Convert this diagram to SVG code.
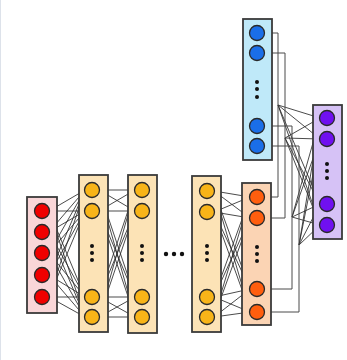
<svg xmlns="http://www.w3.org/2000/svg" width="347" height="360" viewBox="0 0 347 360">
<style>
.box{stroke:#3a3a3a;stroke-width:1.8}
.c{stroke:#2a2a2a;stroke-width:1.3}
.dot{fill:#111}
.ln{fill:none;stroke:#2a2a2a;stroke-width:0.85}
.ol{fill:none;stroke:#4a4a4a;stroke-width:1}
</style>
<defs>
<marker id="a" viewBox="0 0 6 6" refX="6" refY="3" markerWidth="5" markerHeight="5" markerUnits="userSpaceOnUse" orient="auto">
<path d="M0,0 L6,3 L0,6 z" fill="#222"/>
</marker>
</defs>
<rect width="347" height="360" fill="#fff"/>
<line x1="0.5" y1="0" x2="0.5" y2="360" stroke="#dde2ea" stroke-width="1"/>
<g id="connectors">
<g class="ln" marker-end="url(#a)">
<path d="M49 211L85 190"/><path d="M49 211L85 211"/><path d="M49 211L85 297"/><path d="M49 211L85 317"/>
<path d="M49 232L85 190"/><path d="M49 232L85 211"/><path d="M49 232L85 297"/><path d="M49 232L85 317"/>
<path d="M49 253L85 190"/><path d="M49 253L85 211"/><path d="M49 253L85 297"/><path d="M49 253L85 317"/>
<path d="M49 275L85 190"/><path d="M49 275L85 211"/><path d="M49 275L85 297"/><path d="M49 275L85 317"/>
<path d="M49 297L85 190"/><path d="M49 297L85 211"/><path d="M49 297L85 297"/><path d="M49 297L85 317"/>
<path d="M99 190L135 190"/><path d="M99 190L135 211"/><path d="M99 190L135 297"/><path d="M99 190L135 317"/>
<path d="M99 211L135 190"/><path d="M99 211L135 211"/><path d="M99 211L135 297"/><path d="M99 211L135 317"/>
<path d="M99 297L135 190"/><path d="M99 297L135 211"/><path d="M99 297L135 297"/><path d="M99 297L135 317"/>
<path d="M99 317L135 190"/><path d="M99 317L135 211"/><path d="M99 317L135 297"/><path d="M99 317L135 317"/>
<path d="M214 191L250 197"/><path d="M214 191L250 218"/><path d="M214 191L250 289"/><path d="M214 191L250 312"/>
<path d="M214 212L250 197"/><path d="M214 212L250 218"/><path d="M214 212L250 289"/><path d="M214 212L250 312"/>
<path d="M214 297L250 197"/><path d="M214 297L250 218"/><path d="M214 297L250 289"/><path d="M214 297L250 312"/>
<path d="M214 317L250 197"/><path d="M214 317L250 218"/><path d="M214 317L250 289"/><path d="M214 317L250 312"/>
<path d="M278 105L320 118"/><path d="M278 105L320 139"/><path d="M278 105L320 204"/><path d="M278 105L320 225"/>
<path d="M285 138L320 118"/><path d="M285 138L320 139"/><path d="M285 138L320 204"/><path d="M285 138L320 225"/>
<path d="M292 217L320 118"/><path d="M292 217L320 139"/><path d="M292 217L320 204"/><path d="M292 217L320 225"/>
<path d="M299 245L320 118"/><path d="M299 245L320 139"/><path d="M299 245L320 204"/><path d="M299 245L320 225"/>
</g>
<path class="ol" d="M264 33H278V197H264"/>
<path class="ol" d="M264 53H285V218H264"/>
<path class="ol" d="M264 126H292V289H264"/>
<path class="ol" d="M264 146H299V312H264"/>
</g>
<g id="input">
<rect class="box" x="27" y="197" width="30" height="116" fill="#f9d6d8"/>
<g fill="#f00000" class="c"><circle cx="42" cy="211" r="7.5"/><circle cx="42" cy="232" r="7.5"/><circle cx="42" cy="253" r="7.5"/><circle cx="42" cy="275" r="7.5"/><circle cx="42" cy="297" r="7.5"/></g>
</g>
<g id="hidden1">
<rect class="box" x="79" y="175" width="29" height="157" fill="#fce3b6"/>
<g fill="#f8b418" class="c"><circle cx="92" cy="190" r="7.5"/><circle cx="92" cy="211" r="7.5"/><circle cx="92" cy="297" r="7.5"/><circle cx="92" cy="317" r="7.5"/></g>
<g class="dot"><circle cx="92" cy="246" r="2"/><circle cx="92" cy="253" r="2"/><circle cx="92" cy="260" r="2"/></g>
</g>
<g id="hidden2">
<rect class="box" x="128" y="175" width="29" height="158" fill="#fce3b6"/>
<g fill="#f8b418" class="c"><circle cx="142" cy="190" r="7.5"/><circle cx="142" cy="211" r="7.5"/><circle cx="142" cy="297" r="7.5"/><circle cx="142" cy="317" r="7.5"/></g>
<g class="dot"><circle cx="142" cy="246" r="2"/><circle cx="142" cy="253" r="2"/><circle cx="142" cy="260" r="2"/></g>
</g>
<g id="ellipsis" class="dot"><circle cx="166" cy="254" r="2.2"/><circle cx="174" cy="254" r="2.2"/><circle cx="182" cy="254" r="2.2"/></g>
<g id="hidden3">
<rect class="box" x="192" y="176" width="29" height="156" fill="#fce3b6"/>
<g fill="#f8b418" class="c"><circle cx="207" cy="191" r="7.5"/><circle cx="207" cy="212" r="7.5"/><circle cx="207" cy="297" r="7.5"/><circle cx="207" cy="317" r="7.5"/></g>
<g class="dot"><circle cx="207" cy="246" r="2"/><circle cx="207" cy="253" r="2"/><circle cx="207" cy="260" r="2"/></g>
</g>
<g id="orange">
<rect class="box" x="242" y="183" width="29" height="142" fill="#fbd4b4"/>
<g fill="#ff5e0e" class="c"><circle cx="257" cy="197" r="7.5"/><circle cx="257" cy="218" r="7.5"/><circle cx="257" cy="289" r="7.5"/><circle cx="257" cy="312" r="7.5"/></g>
<g class="dot"><circle cx="257" cy="247" r="2"/><circle cx="257" cy="254" r="2"/><circle cx="257" cy="261" r="2"/></g>
</g>
<g id="blue">
<rect class="box" x="243" y="19" width="29" height="141" fill="#bfe9f9"/>
<g fill="#1a6ee8" class="c"><circle cx="257" cy="33" r="7.5"/><circle cx="257" cy="53" r="7.5"/><circle cx="257" cy="126" r="7.5"/><circle cx="257" cy="146" r="7.5"/></g>
<g class="dot"><circle cx="257" cy="82" r="2"/><circle cx="257" cy="89" r="2"/><circle cx="257" cy="97" r="2"/></g>
</g>
<g id="purple">
<rect class="box" x="313" y="105" width="29" height="134" fill="#d6c2f6"/>
<g fill="#7010f0" class="c"><circle cx="327" cy="118" r="7.5"/><circle cx="327" cy="139" r="7.5"/><circle cx="327" cy="204" r="7.5"/><circle cx="327" cy="225" r="7.5"/></g>
<g class="dot"><circle cx="327" cy="164" r="2"/><circle cx="327" cy="171" r="2"/><circle cx="327" cy="178" r="2"/></g>
</g>
</svg>
